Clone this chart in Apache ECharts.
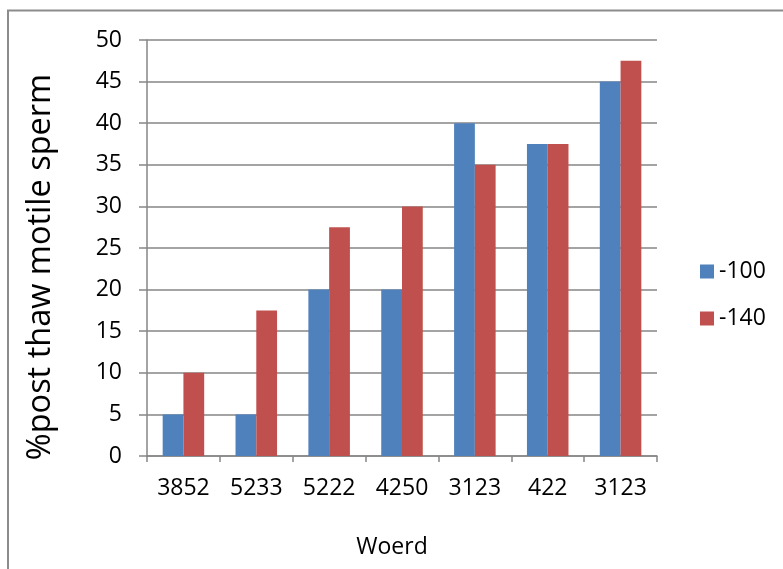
<!DOCTYPE html>
<html>
<head>
<meta charset="utf-8">
<script src="https://cdn.jsdelivr.net/npm/echarts@6/dist/echarts.min.js"></script>
<style>
html,body{margin:0;padding:0;background:#fff;}
#c{width:783px;height:569px;}
</style>
</head>
<body>
<div id="c"></div>
<script>
const categories = ['3852', '5233', '5222', '4250', '3123', '422', '3123'];
const series100 = [5, 5, 20, 20, 40, 37.5, 45];
const series140 = [10, 17.5, 27.5, 30, 35, 37.5, 47.5];
const seriesNames = ['-100', '-140'];
const yTicks = {min: 0, max: 50, interval: 5};

const FONT = 'Open Sans';
const chart = echarts.init(document.getElementById('c'), null, {renderer: 'canvas'});
chart.setOption({
  animation: false,
  textStyle: {fontFamily: FONT},
  graphic: [{
    type: 'rect',
    shape: {x: 8, y: 10.5, width: 900, height: 700},
    style: {fill: 'none', stroke: '#8c8c8c', lineWidth: 2},
    silent: true
  }],
  grid: {left: 147, right: 126, top: 40, bottom: 113},
  legend: {
    orient: 'vertical',
    left: 695,
    top: 255,
    itemWidth: 14,
    itemHeight: 14,
    itemGap: 24,
    icon: 'rect',
    textStyle: {fontFamily: FONT, fontSize: 23, color: '#000'},
    data: seriesNames
  },
  xAxis: {
    type: 'category',
    data: categories,
    name: 'Woerd',
    nameLocation: 'middle',
    nameGap: 80,
    nameTextStyle: {fontFamily: FONT, fontSize: 23, color: '#000', padding: [0, 20, 0, 0]},
    axisLine: {lineStyle: {color: '#868686', width: 1.5}},
    axisTick: {show: true, length: 6, lineStyle: {color: '#868686', width: 1.5}},
    axisLabel: {fontFamily: FONT, fontSize: 23, color: '#000', margin: 21, interval: 0}
  },
  yAxis: {
    type: 'value',
    min: yTicks.min,
    max: yTicks.max,
    interval: yTicks.interval,
    name: '%post thaw motile sperm',
    nameLocation: 'middle',
    nameGap: 90,
    nameTextStyle: {fontFamily: FONT, fontSize: 32.5, color: '#000', padding: [0, 38, 0, 0]},
    axisLine: {show: true, lineStyle: {color: '#868686', width: 1.5}},
    axisTick: {show: true, length: 8, lineStyle: {color: '#868686', width: 1.5}},
    splitLine: {lineStyle: {color: '#868686', width: 1.5}},
    axisLabel: {fontFamily: FONT, fontSize: 23, color: '#000', margin: 25}
  },
  series: [{
    name: seriesNames[0],
    type: 'bar',
    data: series100,
    itemStyle: {color: '#4F81BD'},
    barGap: '0%',
    barCategoryGap: '43%'
  }, {
    name: seriesNames[1],
    type: 'bar',
    data: series140,
    itemStyle: {color: '#C0504D'},
    barGap: '0%',
    barCategoryGap: '43%'
  }]
});
</script>
</body>
</html>
